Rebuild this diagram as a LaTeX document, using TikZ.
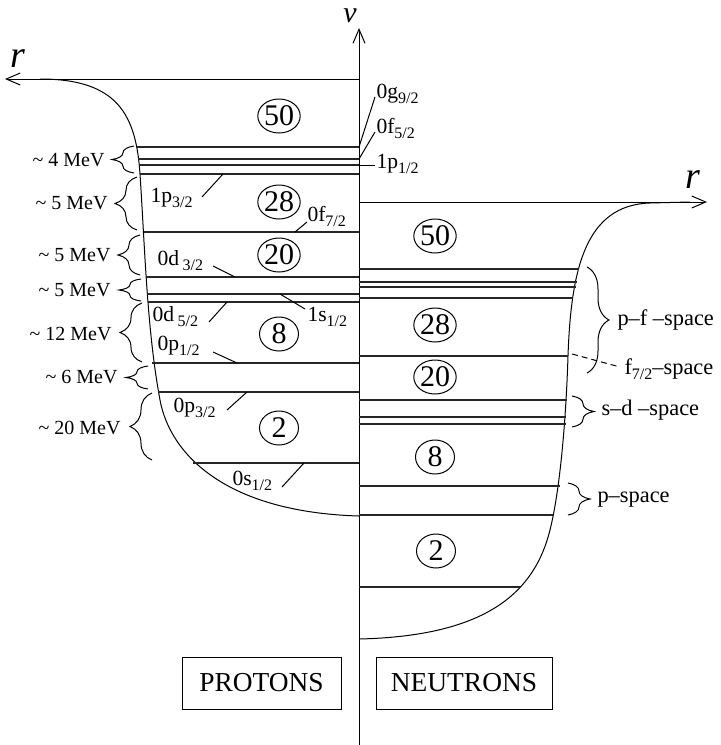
\documentclass[tikz,border=0pt]{standalone}
\usepackage{fontspec}
\setmainfont{Liberation Serif}
\usetikzlibrary{arrows.meta,decorations.pathreplacing,shapes.geometric}
\newcommand\sbs[1]{\raisebox{-2.6pt}{\fontsize{8}{8}\selectfont #1}}
\begin{document}
\begin{tikzpicture}[x=0.5pt,y=-0.5pt, line width=0.5pt,
  level/.style={line width=0.75pt, draw=black!85},
  magic/.style={ellipse, draw, line width=0.5pt, inner sep=0pt, minimum width=19.5pt, minimum height=17pt, font=\fontsize{15}{15}\selectfont},
  lab/.style={font=\fontsize{10.8}{11}\selectfont, inner sep=0pt, anchor=base west},
  gap/.style={font=\fontsize{10}{11}\selectfont, anchor=east, inner sep=0pt},
  spc/.style={font=\fontsize{11.2}{12}\selectfont, inner sep=0pt, anchor=base west},
  brc/.style={decorate, decoration={brace, amplitude=11pt}, line width=0.5pt},
  leader/.style={line width=0.5pt},
  axarrow/.style={-{Straight Barb[length=7pt,width=6pt]}, line width=0.5pt},
  box/.style={draw, line width=0.5pt, minimum width=79.5pt, minimum height=26pt, inner sep=0pt, font=\fontsize{13.7}{14}\selectfont},
  axlab/.style={font=\fontsize{19}{19}\selectfont\itshape, inner sep=0pt}
]
\useasboundingbox (0,0) rectangle (720,745);

% axes
\coordinate (vbot) at (359,745);
\coordinate (vtop) at (359,28);
\draw[axarrow] (vbot) -- (vtop);
\node[axlab, font=\fontsize{15}{15}\selectfont\itshape] (vlab) at (350,16) {v};
\coordinate (pax0) at (359,79);
\coordinate (pax1) at (5,79);
\draw[axarrow] (pax0) -- (pax1);
\node[axlab] (rl) at (18,59) {r};
\coordinate (nax0) at (359,202);
\coordinate (nax1) at (707,202);
\draw[axarrow] (nax0) -- (nax1);
\node[axlab] (rr) at (693,180) {r};

% proton well
\draw (40,79) .. controls (118,79) and (136,115) .. (140,174)
      .. controls (145,250) and (147,330) .. (160,400)
      .. controls (170,454) and (225,512) .. (359,516);
% neutron well
\draw (359,639) .. controls (490,636) and (535,590) .. (550,530)
      .. controls (560,490) and (566,420) .. (568,356)
      .. controls (571,270) and (585,205) .. (650,203) -- (690,202);

% proton levels
\foreach \y/\x in {147/137,159/138,165/139,174/140,232/144,277/146,294/147,302/148,363/152,392/158,463/193}
  \draw[level] (\x,\y) -- (359,\y);
% neutron levels
\foreach \y/\x in {269/579,282/577,287/576,298/573,356/568,400/567,417/566,424/566,486/560,515/553,587/521}
  \draw[level] (359,\y) -- (\x,\y);

% magic numbers
\node[magic] (p50) at (279,116) {50};
\node[magic] (p28) at (279,202) {28};
\node[magic] (p20) at (279,255) {20};
\node[magic] (p8) at (279,334) {8};
\node[magic] (p2) at (279,428) {2};
\node[magic] (n50) at (435,236) {50};
\node[magic] (n28) at (435,325) {28};
\node[magic] (n20) at (435,377) {20};
\node[magic] (n8) at (435,457) {8};
\node[magic] (n2) at (436,551) {2};

% proton level labels with leaders
\node[lab] (t1p32) at (150,202) {1p\sbs{3/2}};
\coordinate (e1p32a) at (202,197); \coordinate (e1p32b) at (223,174);
\draw[leader] (e1p32a) -- (e1p32b);
\node[lab] (t0f72) at (307,221) {0f\sbs{7/2}};
\coordinate (e0f72a) at (295,232); \coordinate (e0f72b) at (307,222);
\draw[leader] (e0f72a) -- (e0f72b);
\node[lab] (t0d32) at (157,265) {0d\,\sbs{3/2}};
\coordinate (e0d32a) at (213,266); \coordinate (e0d32b) at (235,277);
\draw[leader] (e0d32a) -- (e0d32b);
\node[lab] (t1s12) at (307,321) {1s\sbs{1/2}};
\coordinate (e1s12a) at (280,294); \coordinate (e1s12b) at (305,309);
\draw[leader] (e1s12a) -- (e1s12b);
\node[lab] (t0d52) at (152,321) {0d\,\sbs{5/2}};
\coordinate (e0d52a) at (209,322); \coordinate (e0d52b) at (227,302);
\draw[leader] (e0d52a) -- (e0d52b);
\node[lab] (t0p12) at (157,350) {0p\sbs{1/2}};
\coordinate (e0p12a) at (213,352); \coordinate (e0p12b) at (237,363);
\draw[leader] (e0p12a) -- (e0p12b);
\node[lab] (t0p32) at (173,412) {0p\sbs{3/2}};
\coordinate (e0p32a) at (227,410); \coordinate (e0p32b) at (247,392);
\draw[leader] (e0p32a) -- (e0p32b);
\node[lab] (t0s12) at (232,485) {0s\sbs{1/2}};
\coordinate (e0s12a) at (282,487); \coordinate (e0s12b) at (304,463);
\draw[leader] (e0s12a) -- (e0s12b);

% upper labels at the axis
\node[lab] (t0g92) at (376,98) {0g\sbs{9/2}};
\coordinate (e0g92a) at (359,147); \coordinate (e0g92b) at (375,97);
\draw[leader] (e0g92a) -- (e0g92b);
\node[lab] (t0f52) at (376,133) {0f\sbs{5/2}};
\coordinate (e0f52a) at (359,159); \coordinate (e0f52b) at (375,132);
\draw[leader] (e0f52a) -- (e0f52b);
\node[lab] (t1p12) at (376,168) {1p\sbs{1/2}};
\coordinate (e1p12a) at (359,165); \coordinate (e1p12b) at (375,165);
\draw[leader] (e1p12a) -- (e1p12b);

% proton gap braces
\coordinate (b1a) at (134,173); \coordinate (b1b) at (134,146);
\draw[brc] (b1a) -- (b1b);
\node[gap] (g1) at (105,160) {\textasciitilde{} 4 MeV};
\coordinate (b2a) at (137,230); \coordinate (b2b) at (137,177);
\draw[brc] (b2a) -- (b2b);
\node[gap] (g2) at (108,203) {\textasciitilde{} 5 MeV};
\coordinate (b3a) at (140,275); \coordinate (b3b) at (140,235);
\draw[brc] (b3a) -- (b3b);
\node[gap] (g3) at (111,255) {\textasciitilde{} 5 MeV};
\coordinate (b4a) at (141,301); \coordinate (b4b) at (141,279);
\draw[brc] (b4a) -- (b4b);
\node[gap] (g4) at (111,290) {\textasciitilde{} 5 MeV};
\coordinate (b5a) at (142,362); \coordinate (b5b) at (142,303);
\draw[brc] (b5a) -- (b5b);
\node[gap] (g5) at (112,334) {\textasciitilde{} 12 MeV};
\coordinate (b6a) at (148,389); \coordinate (b6b) at (148,366);
\draw[brc] (b6a) -- (b6b);
\node[gap] (g6) at (118,377) {\textasciitilde{} 6 MeV};
\coordinate (b7a) at (152,460); \coordinate (b7b) at (152,393);
\draw[brc] (b7a) -- (b7b);
\node[gap] (g7) at (121,428) {\textasciitilde{} 20 MeV};

% neutron spaces
\coordinate (s1a) at (587,267); \coordinate (s1b) at (587,373);
\draw[brc] (s1a) -- (s1b);
\node[spc] (tpf) at (617,325) {p--f --space};
\coordinate (f7a) at (572,354); \coordinate (f7b) at (620,367);
\draw[leader, dash pattern=on 3pt off 2pt] (f7a) -- (f7b);
\node[spc] (tf7) at (624,374) {f\sbs{7/2}--space};
\coordinate (s2a) at (572,396); \coordinate (s2b) at (572,427);
\draw[brc] (s2a) -- (s2b);
\node[spc] (tsd) at (601,415) {s--d --space};
\coordinate (s3a) at (568,483); \coordinate (s3b) at (568,515);
\draw[brc] (s3a) -- (s3b);
\node[spc] (tp) at (597,502) {p--space};

% boxes
\node[box] (prot) at (261.5,683) {PROTONS};
\node[box, minimum width=88pt] (neut) at (464,683) {NEUTRONS};
\end{tikzpicture}
\end{document}
